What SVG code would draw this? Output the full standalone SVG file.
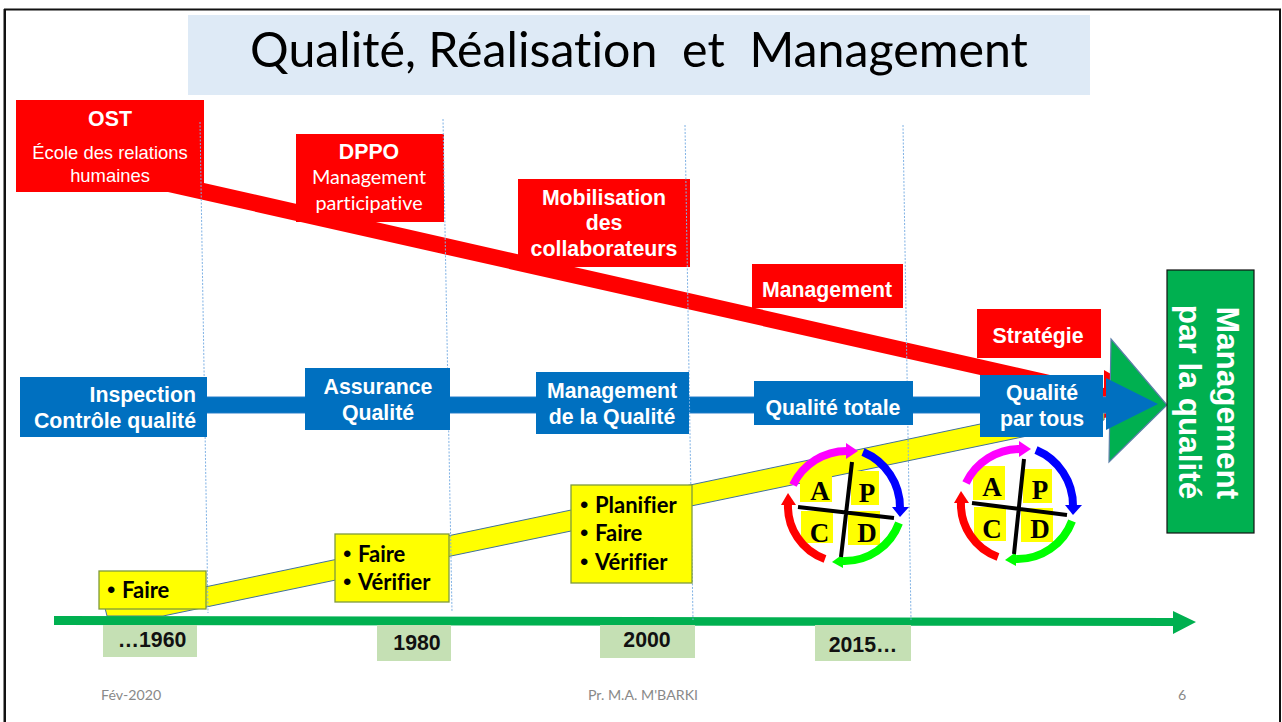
<svg xmlns="http://www.w3.org/2000/svg" width="1282" height="722" viewBox="0 0 1282 722">
<style>
text{font-variant-ligatures:none}
.sans{font-family:"Liberation Sans",Arial,sans-serif}
.lato{font-family:Lato,"Liberation Sans",sans-serif}
.w{fill:#fff;text-anchor:middle}
.b{font-weight:700}
.lab{font-size:21.3px}
.y{fill:#ff0;stroke:#7f9a3c;stroke-width:1.3}
.rb{fill:#f00}
.bb{fill:#0070c0}
.yr{fill:#c5e0b4}
.yt{font-family:"Liberation Sans",Arial,sans-serif;font-weight:700;font-size:21.3px;fill:#111;text-anchor:middle}
.yl{font-family:Lato,"Liberation Sans",sans-serif;font-weight:700;font-size:22px;fill:#000}
.bu{font-family:"Liberation Sans",Arial,sans-serif;font-weight:400;font-size:24px}
.dot{fill:none;stroke:#7fb2e5;stroke-width:1;stroke-dasharray:2 1.5}
.foot{font-family:Lato,"Liberation Sans",sans-serif;font-size:14.2px;fill:#898989}
.arc{fill:none;stroke-width:8}
.sq{fill:#ff0}
.cross{stroke:#000;stroke-width:4;fill:none}
.let{font-family:"Liberation Serif","Times New Roman",serif;font-weight:700;font-size:27px;fill:#000;text-anchor:middle}
</style>
<defs>
<g id="cycle">
<path class="arc" stroke="#f0f" d="M-52,-25 A60,60 0 0 1 2,-59"/><polygon fill="#f0f" points="1,-67 13,-59 1,-51"/>
<path class="arc" stroke="#00f" d="M18,-58 A60,60 0 0 1 55,-2"/><polygon fill="#00f" points="47,-3 64,-3 55,7"/>
<path class="arc" stroke="#0f0" d="M54,13 A58,58 0 0 1 -2,51"/><polygon fill="#0f0" points="-2,44 -13,52 -2,58"/>
<path class="arc" stroke="#f00" d="M-20,49 A56,56 0 0 1 -57,-6"/><polygon fill="#f00" points="-64,-5 -49,-5 -57,-17"/>
</g>
</defs>
<rect id="frame" x="5" y="9.5" width="1275" height="716" fill="#fff" stroke="#111" stroke-width="2"/>
<path d="M3.5,9 V722" stroke="#888" stroke-width="1" fill="none"/>
<g id="title"><rect x="188" y="15" width="902" height="80" fill="#deeaf6"/><text class="lato" x="639" y="67" font-size="48.3" text-anchor="middle" fill="#000" xml:space="preserve">Qualité, Réalisation  et  Management</text></g>
<g id="connectors">
<polygon points="168,192 204,183 1050,375 1104,388 1104,370 1165,405 1104,418 1104,403" class="rb"/>
<polygon points="105,608 1104,398 1104,420 163,616 107,616" fill="#ff0" stroke="#41719c" stroke-width="1"/>
<polygon points="1111,339 1167,405 1109,462" fill="#00b050" stroke="#5b7fa8" stroke-width="1.2"/>
<polygon points="205,397 1106,397 1106,378 1158,404 1106,430 1106,413 205,413" class="bb"/>
<path d="M205,396.7 H1106 M205,413.3 H1106" stroke="#5b9bd5" stroke-width=".8" fill="none"/>
<polygon points="54,616 1173,618 1173,611 1196,622 1173,634 1173,626 54,625" fill="#00b050"/>
</g>
<g id="n-ost"><rect class="rb" x="16" y="100" width="188" height="92"/><text class="sans w b lab" x="110" y="126">OST</text><text class="sans w" font-size="18.4" x="110" y="159">École des relations</text><text class="sans w" font-size="18.4" x="110" y="182">humaines</text></g>
<g id="n-dppo"><rect class="rb" x="296" y="134" width="148" height="88"/><text class="sans w b lab" x="369" y="159">DPPO</text><text class="lato w" font-size="19.8" x="369" y="184">Management</text><text class="lato w" font-size="19.8" x="369" y="210">participative</text></g>
<g id="n-mob"><rect class="rb" x="518" y="179" width="172" height="88"/><text class="sans w b lab" x="604" y="205">Mobilisation</text><text class="sans w b lab" x="604" y="230">des</text><text class="sans w b lab" x="604" y="256">collaborateurs</text></g>
<g id="n-man"><rect class="rb" x="752" y="264" width="151" height="44"/><text class="sans w b lab" x="827" y="297">Management</text></g>
<g id="n-str"><rect class="rb" x="977" y="309" width="124" height="49"/><text class="sans w b lab" x="1038" y="343">Stratégie</text></g>
<g id="guides">
<path class="dot" d="M200,122 L208,613"/><path class="dot" d="M443,119 L452,612"/><path class="dot" d="M685,125 L693,620"/><path class="dot" d="M903,125 L911,620"/>
</g>
<g id="n-insp"><rect class="bb" x="20" y="377" width="187" height="60"/><text class="sans w b lab" x="196" y="402" style="text-anchor:end">Inspection</text><text class="sans w b lab" x="196" y="428" style="text-anchor:end">Contrôle qualité</text></g>
<g id="n-ass"><rect class="bb" x="305" y="368" width="145" height="62"/><text class="sans w b lab" x="378" y="394">Assurance</text><text class="sans w b lab" x="378" y="420">Qualité</text></g>
<g id="n-mq"><rect class="bb" x="536" y="372" width="153" height="62"/><text class="sans w b lab" x="612" y="398">Management</text><text class="sans w b lab" x="612" y="424">de la Qualité</text></g>
<g id="n-qt"><rect class="bb" x="754" y="381" width="159" height="44"/><text class="sans w b lab" x="833" y="415">Qualité totale</text></g>
<g id="n-qpt"><rect class="bb" x="980" y="375" width="123" height="62"/><text class="sans w b lab" x="1042" y="400">Qualité</text><text class="sans w b lab" x="1042" y="426">par tous</text></g>
<g id="n-mpq"><rect x="1167" y="270" width="87" height="263" fill="#00b050" stroke="#111" stroke-width="1.2"/><text class="sans b" font-size="31.5" fill="#fff" text-anchor="middle" transform="translate(1217,403) rotate(90)">Management</text><text class="sans b" font-size="31.5" fill="#fff" text-anchor="middle" transform="translate(1179,402) rotate(90)">par la qualité</text></g>
<g id="n-y1"><rect class="y" x="99" y="571" width="107" height="38"/><text class="yl" y="598"><tspan class="bu" x="107">•</tspan><tspan x="122">Faire</tspan></text></g>
<g id="n-y2"><rect class="y" x="335" y="534" width="114" height="68"/><text class="yl" y="562"><tspan class="bu" x="343">•</tspan><tspan x="358">Faire</tspan></text><text class="yl" y="590"><tspan class="bu" x="343">•</tspan><tspan x="358">Vérifier</tspan></text></g>
<g id="n-y3"><rect class="y" x="571" y="485" width="121" height="98"/><text class="yl" y="513"><tspan class="bu" x="580">•</tspan><tspan x="595">Planifier</tspan></text><text class="yl" y="541"><tspan class="bu" x="580">•</tspan><tspan x="595">Faire</tspan></text><text class="yl" y="570"><tspan class="bu" x="580">•</tspan><tspan x="595">Vérifier</tspan></text></g>
<g id="y-1960"><rect class="yr" x="103" y="625" width="94" height="32"/><text class="yt" x="152" y="647">…1960</text></g>
<g id="y-1980"><rect class="yr" x="377" y="625" width="74" height="36"/><text class="yt" x="417" y="650">1980</text></g>
<g id="y-2000"><rect class="yr" x="600" y="625" width="95" height="33"/><text class="yt" x="647" y="647">2000</text></g>
<g id="y-2015"><rect class="yr" x="815" y="625" width="96" height="36"/><text class="yt" x="863" y="652">2015…</text></g>
<g id="pdca1">
<rect class="sq" x="800" y="472" width="32" height="30"/><rect class="sq" x="851" y="471" width="28" height="34"/><rect class="sq" x="801" y="511" width="32" height="32"/><rect class="sq" x="848" y="511" width="32" height="34"/>
<use href="#cycle" x="845" y="510"/>
<path class="cross" d="M852,462 L841,557 M798,507 L894,518"/>
<text class="let" x="820" y="500">A</text><text class="let" x="867" y="502">P</text><text class="let" x="819.5" y="542">C</text><text class="let" x="867" y="542">D</text>
</g>
<g id="pdca2">
<rect class="sq" x="973" y="466" width="32" height="34"/><rect class="sq" x="1023" y="469" width="29" height="34"/><rect class="sq" x="974" y="507" width="32" height="34"/><rect class="sq" x="1021" y="508" width="32" height="34"/>
<use href="#cycle" x="1018" y="508"/>
<path class="cross" d="M1024,459 L1014,554 M972,503 L1067,515"/>
<text class="let" x="992" y="496">A</text><text class="let" x="1040" y="499">P</text><text class="let" x="992" y="538">C</text><text class="let" x="1040" y="538">D</text>
</g>
<g id="footer"><text class="foot" x="101" y="700">Fév-2020</text><text class="foot" x="643" y="700" text-anchor="middle">Pr. M.A. M'BARKI</text><text class="foot" x="1182" y="700" text-anchor="middle">6</text></g>
</svg>
